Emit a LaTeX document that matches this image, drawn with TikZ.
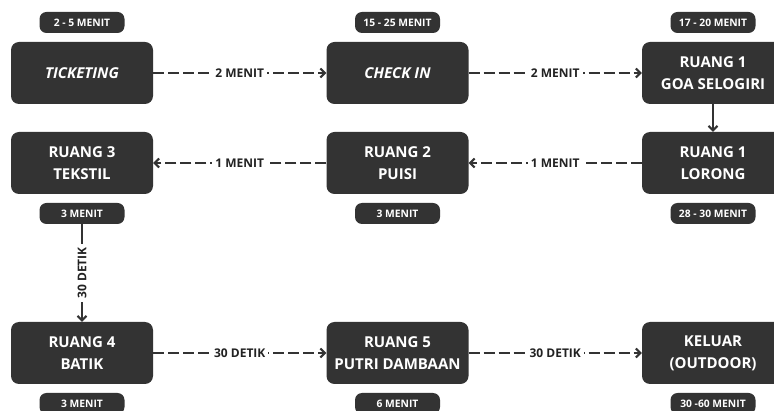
\documentclass[tikz,border=0pt]{standalone}
\usepackage{fontspec}
\setmainfont{Open Sans}
\usetikzlibrary{arrows.meta}
\definecolor{dk}{HTML}{333333}
\definecolor{txt}{HTML}{222222}
\begin{document}
\begin{tikzpicture}[x=1pt,y=-1pt,
  box/.style={fill=dk, rounded corners=8pt, minimum width=142pt, minimum height=62pt,
    text=white, align=center, font=\fontsize{15}{22}\selectfont\bfseries, inner sep=0pt},
  pill/.style={fill=dk, rounded corners=7pt, minimum width=85pt, minimum height=21pt,
    text=white, font=\fontsize{10.3}{12}\selectfont\bfseries, inner sep=0pt},
  conn/.style={draw=dk, line width=2pt, dash pattern=on 11pt off 4pt,
    -{Straight Barb[length=4.5pt,width=9pt,line width=2pt]}},
  solidconn/.style={draw=dk, line width=2pt,
    -{Straight Barb[length=4.5pt,width=9pt,line width=2pt]}},
  lbl/.style={fill=white, text=txt, font=\fontsize{12}{14}\selectfont\bfseries,
    inner sep=3pt}
]
\useasboundingbox (0,0) rectangle (774,411);
\clip (0,0) rectangle (774,411);

% main boxes
\node[box] (tick) at (82,73) {\itshape TICKETING};
\node[box] (check) at (397.5,73) {\itshape CHECK IN};
\node[box] (goa) at (713,73) {RUANG 1\\GOA SELOGIRI};
\node[box] (r3) at (82,163) {RUANG 3\\TEKSTIL};
\node[box] (r2) at (397.5,163) {RUANG 2\\PUISI};
\node[box] (lor) at (713,163) {RUANG 1\\LORONG};
\node[box] (r4) at (82,353) {RUANG 4\\BATIK};
\node[box] (r5) at (397.5,353) {RUANG 5\\PUTRI DAMBAAN};
\node[box] (kel) at (713,353) {KELUAR\\(OUTDOOR)};

% time pills
\node[pill] (p1) at (82,22.5) {2 - 5 MENIT};
\node[pill] (p2) at (397.5,22.5) {15 - 25 MENIT};
\node[pill] (p3) at (713,22.5) {17 - 20 MENIT};
\node[pill] (p4) at (82,213.5) {3 MENIT};
\node[pill] (p5) at (397.5,213.5) {3 MENIT};
\node[pill] (p6) at (713,213.5) {28 - 30 MENIT};
\node[pill] (p7) at (82,403.5) {3 MENIT};
\node[pill] (p8) at (397.5,403.5) {6 MENIT};
\node[pill] (p9) at (713,403.5) {30 -60 MENIT};

% connectors
\draw[conn] (tick.east) -- node[lbl] {2 MENIT} (check.west);
\draw[conn] (check.east) -- node[lbl] {2 MENIT} (goa.west);
\draw[solidconn] (goa.south) -- (lor.north);
\draw[conn] (lor.west) -- node[lbl] {1 MENIT} (r2.east);
\draw[conn] (r2.west) -- node[lbl] {1 MENIT} (r3.east);
\draw[solidconn] (p4.south) -- node[lbl, rotate=90] {30 DETIK} (r4.north);
\draw[conn] (r4.east) -- node[lbl] {30 DETIK} (r5.west);
\draw[conn] (r5.east) -- node[lbl] {30 DETIK} (kel.west);
\end{tikzpicture}
\end{document}
